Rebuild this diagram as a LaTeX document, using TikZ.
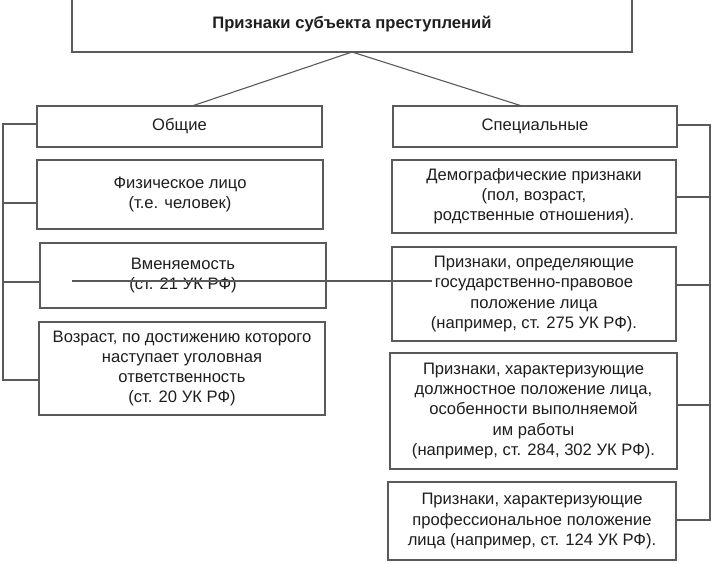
\documentclass[tikz,border=0pt]{standalone}
\usepackage{fontspec}
\setmainfont{Liberation Sans}
\definecolor{ln}{HTML}{5A5A5A}
\definecolor{tx}{HTML}{1E1E1E}
\begin{document}
\begin{tikzpicture}[x=1pt,y=-1pt,
  box/.style={draw=ln,line width=1.1pt,fill=white,inner sep=0pt,align=center,
    text=tx,font=\fontsize{16.6}{20.2}\selectfont},
  wire/.style={draw=ln,line width=1.1pt}]
\useasboundingbox (0,0) rectangle (711,563);
\fill[white] (0,0) rectangle (711,563);
% boxes
\node[box,minimum width=560pt,minimum height=56pt,font=\bfseries\fontsize{16.6}{20.2}\selectfont] (title) at (352,24) {Признаки субъекта преступлений};
\node[box,minimum width=285pt,minimum height=41pt] (obsch) at (179.5,126.5) {Общие};
\node[box,minimum width=284pt,minimum height=41pt] (spec) at (535,126.5) {Специальные};
\node[box,minimum width=286pt,minimum height=69pt] (fiz) at (180,194.5) {Физическое лицо\\(т.е. человек)};
\node[box,minimum width=286pt,minimum height=65pt] (vmen) at (183,275.5) {Вменяемость\\(ст. 21 УК РФ)};
\node[box,minimum width=286pt,minimum height=93pt] (vozr) at (182,368.5) {Возраст, по достижению которого\\наступает уголовная\\ответственность\\(ст. 20 УК РФ)};
\node[box,minimum width=284pt,minimum height=73pt] (demo) at (534,196.5) {Демографические признаки\\(пол, возраст,\\родственные отношения).};
\node[box,minimum width=284pt,minimum height=94pt] (gos) at (534,294) {Признаки, определяющие\\государственно-правовое\\положение лица\\(например, ст. 275 УК РФ).};
\node[box,minimum width=287pt,minimum height=116pt] (dolzh) at (533.5,411) {Признаки, характеризующие\\должностное положение лица,\\особенности выполняемой\\им работы\\(например, ст. 284, 302 УК РФ).};
\node[box,minimum width=288pt,minimum height=78pt] (prof) at (532,521) {Признаки, характеризующие\\профессиональное положение\\лица (например, ст. 124 УК РФ).};
% top connectors
\coordinate (apex) at (352,52);
\draw[wire] (apex) -- (192,106);
\draw[wire] (apex) -- (522,106);
% left bracket
\coordinate (lt) at (3,124);
\coordinate (lb) at (3,380);
\draw[wire] (obsch.west |- lt) -- (lt) -- (lb) -- (vozr.west |- lb);
\draw[wire] (3,203) -- (fiz.west |- 0,203);
\draw[wire] (3,282) -- (vmen.west |- 0,282);
% right bracket
\coordinate (rt) at (710,125);
\coordinate (rb) at (710,520);
\draw[wire] (spec.east |- rt) -- (rt) -- (rb) -- (prof.east |- rb);
\draw[wire] (710,197) -- (demo.east |- 0,197);
\draw[wire] (710,285) -- (gos.east |- 0,285);
\draw[wire] (710,405) -- (dolzh.east |- 0,405);
% stray line
\coordinate (s1) at (72,281);
\coordinate (s2) at (432,281);
\draw[wire] (s1) -- (s2);
\end{tikzpicture}
\end{document}
